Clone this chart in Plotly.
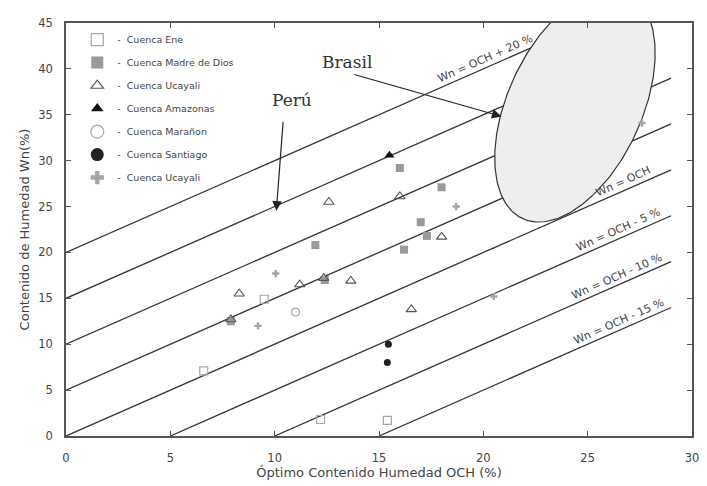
import math
import numpy as np
import plotly.graph_objects as go

# ---------------- data ----------------
ENE_X = [9.5, 6.6, 12.2, 15.4]
ENE_Y = [14.9, 7.1, 1.8, 1.7]

MADRE_X = [16.0, 18.0, 17.0, 17.3, 16.2, 11.95, 12.4, 7.9]
MADRE_Y = [29.2, 27.1, 23.3, 21.8, 20.3, 20.8, 17.0, 12.5]

UCAYALI_X = [12.6, 16.0, 18.0, 8.3, 11.2, 12.35, 13.65, 7.9, 16.55]
UCAYALI_Y = [25.5, 26.1, 21.7, 15.5, 16.5, 17.2, 16.9, 12.7, 13.8]

AMAZONAS_X = [15.5]
AMAZONAS_Y = [30.6]

MARANON_X = [11.0]
MARANON_Y = [13.5]

SANTIAGO_X = [15.45, 15.4]
SANTIAGO_Y = [10.0, 8.0]

UCAYALI2_X = [10.05, 9.2, 18.7, 20.5, 27.6]
UCAYALI2_Y = [17.7, 12.0, 25.0, 15.2, 34.1]

SERIES_NAMES = ["Cuenca Ene", "Cuenca Madre de Dios", "Cuenca Ucayali",
                "Cuenca Amazonas", "Cuenca Marañon", "Cuenca Santiago",
                "Cuenca Ucayali"]

LINE_OFFSETS = [20, 15, 10, 5, 0, -5, -10, -15]
LINE_X_END = [25, 28, 29, 29, 29, 29, 29, 29]
LINE_LABEL_OFFSETS = [20, 0, -5, -10, -15]
LINE_LABEL_TEXTS = ["Wn = OCH + 20 %", "Wn = OCH", "Wn = OCH - 5 %",
                    "Wn = OCH - 10 %", "Wn = OCH - 15 %"]
LINE_LABEL_X = [20.1, 26.7, 26.5, 26.4, 26.5]

X_TICKS = [0, 5, 10, 15, 20, 25, 30]
Y_TICKS = [0, 5, 10, 15, 20, 25, 30, 35, 40, 45]

# ---------------- layout constants ----------------
# the page body has an 8px default margin, so the figure is 8px smaller
W, H = 699, 478
ML, MR, MT, MB = 58, 10, 8, 50
XR = [0, 30]
YR = [0, 45]
PW, PH = W - ML - MR, H - MT - MB
ANGLE = -math.degrees(math.atan((PH / (YR[1] - YR[0])) / (PW / (XR[1] - XR[0]))))

SANS = "DejaVu Sans"
SERIF = "DejaVu Serif"
TXT = "#444444"
AX = "#555555"

fig = go.Figure()

# reference lines Wn = OCH + k
for k, xe in zip(LINE_OFFSETS, LINE_X_END):
    x0 = max(XR[0], -k)
    fig.add_trace(go.Scatter(x=[x0, xe], y=[x0 + k, xe + k], mode="lines",
                             line=dict(color="#333333", width=1.3),
                             hoverinfo="skip", showlegend=False))

# ellipse (Brasil zone)
EC = (24.39, 36.0)
EV1 = (2.494, 12.33)
EV2 = (2.925, -3.004)
t = np.linspace(0, 2 * np.pi, 241)
ex = EC[0] + EV1[0] * np.cos(t) + EV2[0] * np.sin(t)
ey = EC[1] + EV1[1] * np.cos(t) + EV2[1] * np.sin(t)
fig.add_trace(go.Scatter(x=ex, y=ey, mode="lines", fill="toself",
                         fillcolor="#eeeeee", line=dict(color="#333333", width=1.2),
                         hoverinfo="skip", showlegend=False))

# marker styles (plot, legend)
STYLES = [
    dict(symbol="square-open", color="#a8a8a8", size=8, lsize=12, lw=1.2),
    dict(symbol="square", color="#9a9a9a", size=8, lsize=12, lw=0),
    dict(symbol="triangle-up-open", color="#555555", size=9, lsize=11, lw=1.1),
    dict(symbol="triangle-up", color="#111111", size=9, lsize=11, lw=0),
    dict(symbol="circle-open", color="#a8a8a8", size=8, lsize=13, lw=1.2),
    dict(symbol="circle", color="#222222", size=7, lsize=13, lw=0),
    dict(symbol="cross", color="#a5a5a5", size=6, lsize=11, lw=0),
]
SERIES = [(ENE_X, ENE_Y), (MADRE_X, MADRE_Y), (UCAYALI_X, UCAYALI_Y),
          (AMAZONAS_X, AMAZONAS_Y), (MARANON_X, MARANON_Y),
          (SANTIAGO_X, SANTIAGO_Y), (UCAYALI2_X, UCAYALI2_Y)]

for i, ((xs, ys), st) in enumerate(zip(SERIES, STYLES)):
    fig.add_trace(go.Scatter(x=xs, y=ys, mode="markers", showlegend=False,
                             marker=dict(symbol=st["symbol"], color=st["color"], size=st["size"],
                                         line=dict(color=st["color"], width=st["lw"]))))
for i, (name, st) in enumerate(zip(SERIES_NAMES, STYLES)):
    fig.add_trace(go.Scatter(x=[None], y=[None], mode="markers",
                             name="-\u00a0\u00a0" + name, legendgroup="g%d" % i,
                             marker=dict(symbol=st["symbol"], color=st["color"], size=st["lsize"],
                                         line=dict(color=st["color"], width=st["lw"]))))

annotations = []
for k, txt, xl in zip(LINE_LABEL_OFFSETS, LINE_LABEL_TEXTS, LINE_LABEL_X):
    annotations.append(dict(x=xl, y=xl + k, xref="x", yref="y", text=txt,
                            showarrow=False, textangle=ANGLE, yshift=9,
                            font=dict(family=SANS, size=11, color=TXT)))

# Brasil / Perú labels and arrows
annotations += [
    dict(x=13.45, y=40.8, xref="x", yref="y", text="Brasil", showarrow=False,
         font=dict(family=SERIF, size=17, color="#333333")),
    dict(x=10.84, y=36.6, xref="x", yref="y", text="Perú", showarrow=False,
         font=dict(family=SERIF, size=17, color="#333333")),
    dict(x=20.87, y=34.82, ax=13.74, ay=39.43, xref="x", yref="y", axref="x", ayref="y",
         text="", showarrow=True, arrowhead=2, arrowsize=1.6, arrowwidth=1.2,
         arrowcolor="#222222"),
    dict(x=10.08, y=24.54, ax=10.41, ay=34.39, xref="x", yref="y", axref="x", ayref="y",
         text="", showarrow=True, arrowhead=2, arrowsize=1.6, arrowwidth=1.2,
         arrowcolor="#222222"),
]

axis_common = dict(showgrid=False, zeroline=False, showline=True, linecolor=AX,
                   linewidth=1.5, mirror="ticks", ticks="inside", ticklen=5,
                   tickwidth=1.2, tickcolor=AX, ticklabeloverflow="allow",
                   tickfont=dict(family=SANS, size=11.5, color=TXT))

fig.update_layout(
    width=W, height=H,
    margin=dict(l=ML, r=MR, t=MT, b=MB, pad=0),
    paper_bgcolor="white", plot_bgcolor="white",
    xaxis=dict(range=XR, tickvals=X_TICKS, ticklabelstandoff=10,
               title=dict(text="Óptimo Contenido Humedad OCH (%)", standoff=4,
                          font=dict(family=SANS, size=13, color=TXT)),
               **axis_common),
    yaxis=dict(range=YR, tickvals=Y_TICKS, ticklabelstandoff=9,
               title=dict(text="Contenido de Humedad Wn(%)", standoff=6,
                          font=dict(family=SANS, size=13, color=TXT)),
               **axis_common),
    legend=dict(x=0.018, y=0.995, xanchor="left", yanchor="top",
                bgcolor="rgba(0,0,0,0)", traceorder="grouped", tracegroupgap=4,
                font=dict(family=SANS, size=9.5, color=TXT), itemsizing="trace"),
    annotations=annotations,
    showlegend=True,
)

fig.write_html("out.html")
